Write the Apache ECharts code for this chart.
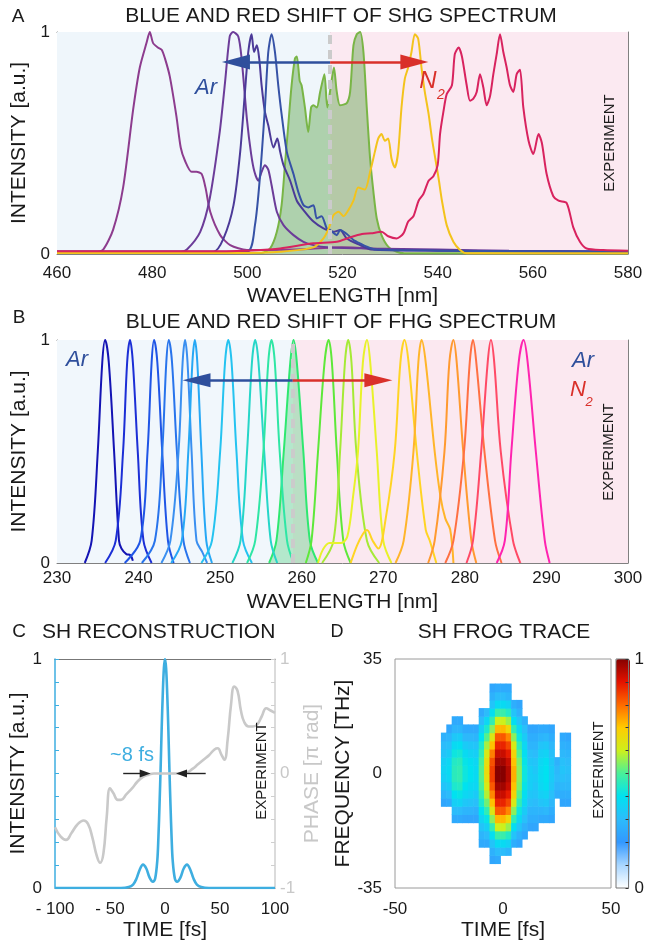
<!DOCTYPE html>
<html>
<head>
<meta charset="utf-8">
<script src="https://cdn.jsdelivr.net/npm/echarts@6/dist/echarts.min.js"></script>
<style>
html, body { margin: 0; padding: 0; background: #fff; }
#main { width: 647px; height: 947px; }
</style>
</head>
<body>
<div id="main"></div>
<script>
// ---- panel A : SHG spectra  [wavelength nm, intensity a.u.]
var shg480 = [[460,0.01],[468,0.01],[469.7,0.02],[471.8,0.11],[473.9,0.3],[476,0.65],[477.4,0.84],[478.8,0.95],[479.5,1.0],[480.2,0.95],[481.2,0.93],[482,0.92],[482.7,0.88],[483.7,0.8],[485.1,0.62],[486,0.48],[486.9,0.42],[488.3,0.37],[489.3,0.37],[490.4,0.36],[491.2,0.3],[492.2,0.19],[494.3,0.085],[496.4,0.04],[499.9,0.018],[510,0.02],[520,0.03],[530,0.02],[545,0.015],[580,0.01]];
var shg497 = [[460,0.01],[486,0.01],[487.3,0.02],[490.1,0.1],[492.1,0.25],[494.2,0.55],[495.3,0.77],[496.3,0.98],[497,1.0],[498.1,0.98],[498.8,0.88],[499.9,0.61],[500.8,0.45],[501.5,0.37],[502.3,0.33],[503,0.37],[503.7,0.4],[504.4,0.38],[505.1,0.31],[506.2,0.19],[507.6,0.13],[509.7,0.085],[511.8,0.055],[513.9,0.04],[516.7,0.03],[525,0.025],[540,0.02],[555,0.015],[580,0.01]];
var shg501 = [[460,0.01],[492.9,0.01],[495,0.07],[497.1,0.22],[498.5,0.46],[499.5,0.73],[500.2,0.91],[500.9,0.99],[501.4,0.91],[502,0.94],[502.5,0.88],[503,0.76],[503.7,0.64],[504.4,0.58],[505.5,0.48],[506.3,0.52],[506.9,0.46],[507.6,0.4],[509,0.33],[510.4,0.24],[512.1,0.19],[513.9,0.146],[516,0.115],[518.1,0.1],[519.5,0.108],[520.9,0.07],[523.7,0.04],[526,0.02],[540,0.015],[580,0.01]];
var shg505 = [[460,0.01],[499.9,0.01],[501.6,0.13],[502.7,0.36],[503.7,0.66],[504.4,0.91],[505.1,0.99],[505.8,0.91],[506.5,0.76],[507.2,0.63],[508.3,0.46],[509.7,0.36],[510.7,0.28],[511.8,0.22],[512.8,0.21],[513.9,0.22],[514.6,0.16],[515.6,0.17],[516.7,0.115],[517.4,0.108],[518.8,0.085],[519.5,0.108],[520.9,0.09],[522.3,0.063],[523,0.055],[525.1,0.033],[527,0.02],[540,0.015],[580,0.01]];
var shg523 = [[460,0.005],[503,0.005],[504.8,0.025],[506.2,0.1],[507.2,0.22],[507.9,0.4],[508.6,0.58],[509.3,0.76],[510,0.88],[510.4,0.89],[511,0.78],[511.4,0.76],[512.1,0.66],[512.8,0.55],[513.4,0.66],[513.9,0.67],[514.6,0.66],[515.3,0.73],[516.2,0.81],[516.8,0.66],[517.7,0.78],[518.2,0.84],[518.8,0.73],[519.5,0.67],[520.9,0.68],[521.6,0.73],[522.3,0.94],[523,0.99],[523.7,1.0],[524.4,0.91],[525.1,0.66],[525.8,0.43],[526.5,0.28],[527.2,0.16],[528.2,0.085],[529.6,0.033],[531.4,0.01],[533,0.003],[580,0.003]];
var shg536 = [[460,0.005],[500,0.005],[506.9,0.01],[513.9,0.03],[516,0.07],[517.1,0.115],[518.1,0.175],[519.2,0.19],[520.2,0.17],[521.3,0.2],[522.3,0.24],[523.3,0.3],[524.7,0.29],[525.8,0.37],[526.8,0.46],[527.5,0.52],[528.2,0.54],[528.9,0.51],[529.6,0.52],[530.3,0.43],[531,0.39],[531.7,0.46],[532.4,0.66],[533.1,0.79],[533.8,0.84],[534.5,0.91],[535.2,0.99],[535.9,0.97],[536.6,0.84],[537.3,0.73],[538.1,0.63],[538.8,0.52],[539.5,0.43],[540.2,0.34],[540.9,0.24],[541.9,0.13],[543.3,0.055],[544.7,0.018],[546.1,0.003],[580,0.003]];
var shg554 = [[460,0.012],[490,0.012],[500,0.015],[506.9,0.025],[513.9,0.048],[518.8,0.055],[521.6,0.075],[524.1,0.09],[526,0.093],[528.2,0.1],[529.6,0.08],[531.4,0.07],[532.8,0.093],[533.8,0.146],[534.9,0.17],[536,0.24],[537,0.27],[538.1,0.33],[539.1,0.35],[540,0.4],[540.5,0.54],[541.2,0.64],[541.9,0.72],[543,0.76],[543.6,0.9],[544.4,0.93],[545.1,0.89],[546.1,0.76],[546.8,0.69],[547.5,0.7],[548.2,0.73],[548.9,0.81],[549.6,0.75],[550.3,0.67],[551,0.71],[551.7,0.81],[552.4,0.9],[553.1,0.99],[553.8,0.91],[554.5,0.84],[555.2,0.76],[555.9,0.73],[556.6,0.81],[557.3,0.83],[558,0.66],[559.1,0.51],[560.1,0.45],[561.2,0.54],[561.9,0.5],[562.9,0.36],[564.3,0.26],[565.4,0.24],[567.1,0.23],[568.5,0.12],[569.9,0.055],[571.3,0.025],[574.8,0.018],[580,0.015]];
var shgColors = ['#8d3c8e', '#6c3c99', '#4c3a98', '#3652a6', '#79b546', '#f3c31c', '#d8235f'];
var shgCenter = 517.4;
var shgArrow = { y: 0.865, blueEnd: 497.6, redEnd: 535.1 };

// ---- panel B : FHG spectra
var fhgSpectra = [
  [[233.4,0],[234.25,0.1],[235.0,0.5],[235.55,0.9],[235.9,1],[236.35,0.9],[237.0,0.5],[237.6,0.1],[237.9,0.065],[238.5,0.04],[239.0,0.035],[239.3,0.01]],
  [[235.9,0],[237.2,0.1],[238.1,0.5],[238.6,0.9],[238.95,1],[239.3,0.9],[239.9,0.5],[240.6,0.1],[241.6,0]],
  [[238.3,0],[240.2,0.1],[241.1,0.5],[241.6,0.9],[241.9,1],[242.3,0.9],[242.9,0.5],[243.6,0.1],[244.3,0]],
  [[240.4,0],[242.0,0.1],[242.9,0.5],[243.4,0.9],[243.7,1],[244.1,0.9],[244.7,0.5],[245.5,0.1],[246.3,0]],
  [[242.8,0],[243.9,0.1],[244.9,0.5],[245.4,0.9],[245.7,1],[246.0,0.9],[246.5,0.5],[247.1,0.1],[247.8,0.05],[248.4,0]],
  [[244.0,0],[245.3,0.1],[246.1,0.5],[246.6,0.9],[246.9,1],[247.2,0.9],[247.7,0.5],[248.3,0.1],[249.0,0]],
  [[247.7,0],[249.0,0.1],[250.0,0.5],[250.6,0.9],[251.0,1],[251.4,0.9],[252.0,0.5],[252.8,0.1],[253.9,0]],
  [[251.5,0],[252.5,0.1],[253.3,0.5],[253.9,0.9],[254.3,1],[254.7,0.9],[255.4,0.5],[256.2,0.1],[257.0,0]],
  [[253.3,0],[254.3,0.1],[255.3,0.5],[255.9,0.9],[256.3,1],[256.7,0.9],[257.3,0.5],[258.2,0.1],[259.0,0]],
  [[256.0,0],[256.9,0.1],[257.8,0.5],[258.6,0.9],[259.0,1],[259.4,0.9],[260.2,0.5],[261.0,0.1],[262.0,0]],
  [[260.5,0],[261.2,0.1],[262.0,0.5],[262.8,0.9],[263.3,1],[263.7,0.9],[264.3,0.5],[265.1,0.1],[266.0,0]],
  [[262.5,0],[263.9,0.1],[264.7,0.5],[265.3,0.9],[265.7,1],[266.1,0.9],[266.7,0.5],[268.0,0.1],[269.5,0]],
  [[262.0,0],[262.6,0.06],[263.4,0.09],[264.8,0.09],[265.6,0.12],[266.3,0.3],[266.9,0.5],[267.5,0.9],[268.0,1],[268.4,0.9],[269.2,0.5],[270.0,0.1],[271.0,0]],
  [[266.0,0],[266.8,0.08],[267.5,0.13],[268.0,0.148],[268.7,0.1],[269.4,0.065],[270.3,0.2],[271.4,0.5],[272.1,0.9],[272.6,1],[273.1,0.9],[274.1,0.5],[275.2,0.15],[275.7,0.1],[276.5,0]],
  [[271.5,0],[272.5,0.1],[273.7,0.5],[274.3,0.9],[274.7,1],[275.2,0.9],[276.3,0.5],[277.0,0.3],[277.6,0.2],[278.2,0.15],[278.6,0]],
  [[275.5,0],[276.3,0.1],[277.5,0.5],[278.1,0.9],[278.6,1],[279.0,0.9],[279.8,0.5],[280.8,0.1],[281.4,0]],
  [[277.6,0],[278.6,0.1],[279.9,0.5],[280.6,0.9],[281.0,1],[281.4,0.9],[282.4,0.5],[283.7,0.1],[284.5,0]],
  [[280.2,0],[281.0,0.1],[282.0,0.5],[282.8,0.9],[283.2,1],[283.6,0.9],[284.4,0.5],[285.9,0.1],[286.8,0]],
  [[283.9,0],[284.9,0.1],[285.7,0.5],[286.6,0.9],[287.2,1],[287.7,0.9],[288.7,0.5],[289.8,0.1],[290.4,0]]
];
var fhgColors = ['#1414b4','#1c2fd6','#1f55e6','#2874ec','#3a8ff0','#27a8f5','#25c3f0','#26d6c8','#2fe6a5','#2ee870',
                 '#5ee83a','#a6ea36','#e8f22a','#ffd424','#ffb52a','#ff9a30','#ff7042','#ff4a66','#ff24b0'];
var fhgFilled = 9;
var fhgCenter = 258.9;
var fhgArrow = { y: 0.82, blueEnd: 247.1, redEnd: 269.4 };

// ---- panel C : reconstructed SH pulse
var pulseIntensity = [[-100,0],[-40,0],[-33,0.004],[-29,0.015],[-26,0.04],[-23,0.08],[-20,0.102],[-17,0.085],[-14,0.045],[-11,0.027],[-9,0.04],[-7,0.12],[-6,0.22],[-5,0.36],[-4,0.52],[-3,0.7],[-2,0.85],[-1,0.96],[0,1],[1,0.96],[2,0.85],[3,0.7],[4,0.52],[5,0.36],[6,0.22],[7,0.12],[9,0.04],[11,0.027],[14,0.045],[17,0.085],[20,0.102],[23,0.08],[26,0.04],[29,0.015],[33,0.004],[40,0],[100,0]];
var pulsePhase = [[-100,-0.47],[-95,-0.55],[-90,-0.58],[-85,-0.52],[-80,-0.45],[-74,-0.41],[-70,-0.44],[-66,-0.56],[-62,-0.72],[-59,-0.78],[-56,-0.7],[-53,-0.38],[-50,-0.13],[-47,-0.17],[-43,-0.23],[-40,-0.23],[-35,-0.18],[-30,-0.13],[-25,-0.07],[-20,-0.03],[-15,-0.01],[-10,0],[0,0],[10,0],[20,0.01],[25,0.04],[30,0.08],[35,0.12],[40,0.16],[45,0.21],[48,0.22],[51,0.17],[54,0.12],[57,0.3],[60,0.6],[63,0.76],[66,0.72],[69,0.55],[72,0.45],[76,0.41],[80,0.41],[84,0.43],[88,0.5],[92,0.57],[96,0.55],[100,0.53]];
var fwhmArrows = [[-38, -18], [37, 15]];   // [tail, head] in fs, drawn at phase 0

// ---- panel D : SH FROG trace, frogTrace[column][row]
var frogTimes = [-27.5,-25,-22.5,-20,-17.5,-15,-12.5,-10,-7.5,-5,-2.5,0,2.5,5,7.5,10,12.5,15,17.5,20,22.5,25,27.5,30];
var frogFreqs = [-28.75,-26.25,-23.75,-21.25,-18.75,-16.25,-13.75,-11.25,-8.75,-6.25,-3.75,-1.25,1.25,3.75,6.25,8.75,11.25,13.75,16.25,18.75,21.25,23.75,26.25,28.75];
var frogTrace = [
  [0,0,0,0,0,0,0,0,.24,.28,.32,.35,.36,.35,.32,.3,.27,0,0,0,0,0,0,0],
  [0,0,0,0,0,0,0,0,.25,.3,.34,.37,.38,.37,.34,.31,.28,.24,0,0,0,0,0,0],
  [0,0,0,0,0,0,.25,.3,.35,.4,.44,.46,.46,.45,.42,.38,.33,.28,.25,0,0,0,0,0],
  [0,0,0,0,0,0,.25,.3,.36,.41,.45,.47,.47,.46,.43,.39,.34,.28,.25,0,0,0,0,0],
  [0,0,0,0,0,0,.24,.28,.33,.37,.4,.42,.42,.41,.38,.34,.29,.25,0,0,0,0,0,0],
  [0,0,0,0,0,0,.24,.28,.32,.36,.38,.4,.4,.39,.36,.33,.29,.25,0,0,0,0,0,0],
  [0,0,0,0,0,0,.24,.27,.31,.34,.37,.38,.38,.37,.35,.32,.28,.25,0,0,0,0,0,0],
  [0,0,0,.25,.28,.32,.36,.4,.44,.47,.5,.51,.51,.5,.47,.44,.4,.35,.3,.25,0,0,0,0],
  [0,0,0,.25,.3,.35,.41,.47,.53,.58,.62,.65,.66,.65,.62,.57,.51,.44,.37,.3,0,0,0,0],
  [0,.24,.27,.32,.39,.47,.55,.63,.71,.77,.82,.85,.85,.83,.78,.71,.63,.55,.47,.39,.32,.27,.24,0],
  [0,.25,.3,.38,.48,.6,.72,.82,.88,.93,.97,1,1,.97,.93,.88,.82,.72,.6,.48,.38,.3,.25,0],
  [0,0,.3,.38,.48,.6,.72,.82,.88,.93,.97,1,1,.97,.93,.88,.82,.72,.6,.48,.38,.3,.25,0],
  [0,0,.28,.36,.45,.56,.67,.77,.84,.89,.93,.95,.95,.93,.89,.84,.77,.67,.56,.45,.36,.28,.25,0],
  [0,0,0,.26,.32,.39,.47,.55,.62,.68,.71,.73,.73,.71,.68,.62,.55,.47,.39,.32,.26,0,0,0],
  [0,0,0,.24,.27,.32,.37,.42,.47,.51,.54,.55,.55,.54,.51,.47,.42,.37,.32,.27,.24,0,0,0],
  [0,0,0,0,.24,.27,.31,.34,.37,.39,.41,.42,.42,.41,.39,.37,.34,.31,.27,0,0,0,0,0],
  [0,0,0,0,0,.24,.26,.28,.31,.33,.35,.35,.35,.33,.31,.28,.26,.24,0,0,0,0,0,0],
  [0,0,0,0,0,.24,.26,.28,.3,.32,.33,.34,.33,.32,.3,.28,.26,.24,0,0,0,0,0,0],
  [0,0,0,0,0,0,.25,.28,.32,.35,.37,.38,.38,.37,.35,.32,.28,.25,0,0,0,0,0,0],
  [0,0,0,0,0,0,.25,.29,.33,.36,.39,.4,.4,.39,.36,.33,.29,.25,0,0,0,0,0,0],
  [0,0,0,0,0,0,.24,.26,.29,.31,.33,.34,.34,.33,.31,.29,.26,.24,0,0,0,0,0,0],
  [0,0,0,0,0,0,0,0,0,.26,.28,.3,.29,.27,0,0,0,0,0,0,0,0,0,0],
  [0,0,0,0,0,0,0,0,.24,.26,.29,.31,.32,.31,.29,.27,.25,0,0,0,0,0,0,0],
  [0,0,0,0,0,0,0,0,.24,.26,.29,.3,.31,.3,.28,.26,.24,0,0,0,0,0,0,0]
];
var jetWhite = ['#ffffff','#a8d6ff','#3298ff','#2cbcfb','#00e2f0','#48f09a','#cdf01c','#ffcc00','#ff6a00','#e41200','#860000'];

var FONT = '"Liberation Sans", Arial, Helvetica, sans-serif';
var INK = '#1a1a1a';
var BLUE = '#2f4f9c', RED = '#d9302a', SKY = '#3eaee0';

function only01(v) {
  if (Math.abs(v) < 1e-6) return '0';
  if (Math.abs(v - 1) < 1e-6) return '1';
  return '';
}

function frameX(grid, min, max, step, opt) {
  return [
    Object.assign({
      type: 'value', gridIndex: grid, min: min, max: max, interval: step, position: 'bottom',
      axisLine: { onZero: false, lineStyle: { color: '#808080' } },
      axisTick: { inside: true, length: 5, lineStyle: { color: '#808080' } },
      axisLabel: { color: INK, fontSize: 17, fontFamily: FONT, margin: 10 },
      splitLine: { show: false },
      name: 'WAVELENGTH [nm]', nameLocation: 'middle', nameGap: 30,
      nameTextStyle: { color: INK, fontSize: 21, fontFamily: FONT }
    }, opt || {}),
    {
      type: 'value', gridIndex: grid, min: min, max: max, interval: step, position: 'top',
      axisLine: { onZero: false, lineStyle: { color: '#808080' } },
      axisTick: { inside: true, length: 5, lineStyle: { color: '#808080' } },
      axisLabel: { show: false }, splitLine: { show: false }
    }
  ];
}
function frameY(grid) {
  return [
    {
      type: 'value', gridIndex: grid, min: 0, max: 1, interval: 0.2, position: 'left',
      axisLine: { show: true, onZero: false, lineStyle: { color: '#808080' } },
      axisTick: { show: true, inside: true, length: 5, lineStyle: { color: '#808080' } },
      axisLabel: { color: INK, fontSize: 17, fontFamily: FONT, margin: 7, formatter: only01 },
      splitLine: { show: false },
      name: 'INTENSITY [a.u.]', nameLocation: 'middle', nameGap: 24,
      nameTextStyle: { color: INK, fontSize: 21, fontFamily: FONT }
    },
    {
      type: 'value', gridIndex: grid, min: 0, max: 1, interval: 0.2, position: 'right',
      axisLine: { show: true, onZero: false, lineStyle: { color: '#808080' } },
      axisTick: { show: true, inside: true, length: 5, lineStyle: { color: '#808080' } },
      axisLabel: { show: false }, splitLine: { show: false }
    }
  ];
}

var xAxes = [].concat(
  frameX(0, 460, 580, 20, { axisLabel: { color: INK, fontSize: 17, fontFamily: FONT, margin: 11 }, nameGap: 32 }),
  frameX(1, 230, 300, 10, { axisLabel: { color: INK, fontSize: 17, fontFamily: FONT, margin: 7 }, nameGap: 29 }),
  [
    { type: 'value', gridIndex: 2, min: -100, max: 100, interval: 50,
      axisLine: { onZero: false, lineStyle: { color: '#888' } }, axisTick: { show: false }, splitLine: { show: false },
      axisLabel: { color: INK, fontSize: 17, fontFamily: FONT, margin: 13,
        formatter: function (v) { return v < 0 ? '- ' + Math.abs(v) : String(v); } },
      name: 'TIME [fs]', nameLocation: 'middle', nameGap: 32,
      nameTextStyle: { color: INK, fontSize: 21, fontFamily: FONT } },
    { type: 'value', gridIndex: 2, min: -100, max: 100, position: 'top',
      axisLine: { onZero: false, lineStyle: { color: '#777' } }, axisTick: { show: false }, axisLabel: { show: false }, splitLine: { show: false } },
    { type: 'value', gridIndex: 3, min: -50, max: 50, interval: 50,
      axisLine: { show: false, onZero: false }, axisTick: { show: false }, splitLine: { show: false },
      axisLabel: { color: INK, fontSize: 17, fontFamily: FONT, margin: 13 },
      name: 'TIME [fs]', nameLocation: 'middle', nameGap: 32,
      nameTextStyle: { color: INK, fontSize: 21, fontFamily: FONT } },
    { type: 'value', gridIndex: 4, min: 0, max: 1, show: false }
  ]
);

var yAxes = [].concat(
  frameY(0),
  frameY(1),
  [
    { type: 'value', gridIndex: 2, min: 0, max: 1, interval: 0.1, position: 'left',
      axisLine: { show: true, onZero: false, lineStyle: { color: SKY, width: 1.5 } },
      axisTick: { show: true, inside: true, length: 4, lineStyle: { color: SKY } },
      axisLabel: { color: INK, fontSize: 17, fontFamily: FONT, margin: 13, formatter: only01 },
      splitLine: { show: false },
      name: 'INTENSITY [a.u.]', nameLocation: 'middle', nameGap: 23,
      nameTextStyle: { color: INK, fontSize: 21, fontFamily: FONT } },
    { type: 'value', gridIndex: 2, min: -1, max: 1, interval: 0.2, position: 'right',
      axisLine: { show: true, onZero: false, lineStyle: { color: '#cfcfcf', width: 1.5 } },
      axisTick: { show: true, inside: true, length: 4, lineStyle: { color: '#cfcfcf' } },
      axisLabel: { color: '#c8c8c8', fontSize: 17, fontFamily: FONT, margin: 5,
        formatter: function (v) { return (Math.abs(v) < 1e-6 || Math.abs(Math.abs(v) - 1) < 1e-6) ? String(Math.round(v)) : ''; } },
      splitLine: { show: false },
      name: 'PHASE [\u03c0 rad]', nameLocation: 'middle', nameGap: 27,
      nameTextStyle: { color: '#c8c8c8', fontSize: 21, fontFamily: FONT } },
    { type: 'value', gridIndex: 3, min: -35, max: 35, interval: 35,
      axisLine: { show: false, onZero: false }, axisTick: { show: false }, splitLine: { show: false },
      axisLabel: { color: INK, fontSize: 17, fontFamily: FONT, margin: 13 },
      name: 'FREQUENCY [THz]', nameLocation: 'middle', nameGap: 40,
      nameTextStyle: { color: INK, fontSize: 21, fontFamily: FONT } },
    { type: 'value', gridIndex: 4, min: 0, max: 1, interval: 0.1, position: 'right', z: 10,
      axisLine: { show: false, onZero: false },
      axisTick: { show: true, inside: true, length: 3, lineStyle: { color: '#333' } },
      axisLabel: { color: INK, fontSize: 17, fontFamily: FONT, margin: 6, formatter: only01 },
      splitLine: { show: false } }
  ]
);

function curve(xi, yi, data, color, width, z) {
  return { type: 'line', xAxisIndex: xi, yAxisIndex: yi, data: data, showSymbol: false, symbol: 'none',
           smooth: 0.25, z: z || 2, silent: true, lineStyle: { color: color, width: width || 2 } };
}
function background(xi, yi, x0, xc, x1, cLeft, cRight) {
  return { type: 'line', xAxisIndex: xi, yAxisIndex: yi, data: [[x0, 0], [x1, 0]], symbol: 'none',
    lineStyle: { opacity: 0 }, z: 0, silent: true,
    markArea: { silent: true, label: { show: false },
      data: [[{ xAxis: x0, itemStyle: { color: cLeft } }, { xAxis: xc }],
             [{ xAxis: xc, itemStyle: { color: cRight } }, { xAxis: x1 }]] } };
}
function centerLine(xi, yi, xc) {
  return { type: 'line', xAxisIndex: xi, yAxisIndex: yi, data: [[xc, 0]], symbol: 'none',
    lineStyle: { opacity: 0 }, z: 3, silent: true,
    markLine: { silent: true, symbol: 'none', label: { show: false },
      lineStyle: { color: '#cbcbcb', width: 4, type: [9, 6] }, data: [{ xAxis: xc }] } };
}
function shiftArrows(xi, yi, xc, arrow, size) {
  return { type: 'line', xAxisIndex: xi, yAxisIndex: yi, data: [[xc, arrow.y]], symbol: 'none',
    lineStyle: { opacity: 0 }, z: 5, silent: true,
    markLine: { silent: true, symbol: ['none', 'triangle'], symbolSize: size, label: { show: false },
      data: [
        [{ coord: [xc, arrow.y], lineStyle: { color: BLUE, width: 2.6, type: 'solid' } }, { coord: [arrow.blueEnd, arrow.y] }],
        [{ coord: [xc, arrow.y], lineStyle: { color: RED, width: 2.6, type: 'solid' } }, { coord: [arrow.redEnd, arrow.y] }]
      ] } };
}

var series = [];
// panel A
series.push(background(0, 0, 460, shgCenter, 580, '#eff6fb', '#fbe9f1'));
var green = curve(0, 0, shg523, shgColors[4], 2, 1);
green.areaStyle = { color: 'rgba(70,150,50,0.55)' };
series.push(green);
[shg480, shg497, shg501, shg505, shg536, shg554].forEach(function (d, i) {
  var c = [0, 1, 2, 3, 5, 6][i];
  series.push(curve(0, 0, d, shgColors[c], 2, 2));
});
series.push(centerLine(0, 0, shgCenter));
series.push(shiftArrows(0, 0, shgCenter, shgArrow, [15, 28]));

// panel B
series.push(background(2, 2, 230, fhgCenter, 300, '#f1f7fc', '#fbe8f0'));
fhgSpectra.forEach(function (d, i) {
  var s = curve(2, 2, d, fhgColors[i], 2, i === fhgFilled ? 1 : 2);
  s.smooth = 0.35;
  if (i === fhgFilled) s.areaStyle = { color: 'rgba(46,200,100,0.45)' };
  series.push(s);
});
series.push(centerLine(2, 2, fhgCenter));
series.push(shiftArrows(2, 2, fhgCenter, fhgArrow, [14, 28]));

// panel C
var inten = curve(4, 4, pulseIntensity, SKY, 2.6, 2);
inten.smooth = 0.35;
series.push(inten);
var phase = curve(4, 5, pulsePhase, '#c9c9c9', 2.6, 3);
phase.smooth = 0.45;
series.push(phase);
series.push({ type: 'line', xAxisIndex: 4, yAxisIndex: 4, data: [[0, 0.5]], symbol: 'none', lineStyle: { opacity: 0 },
  z: 5, silent: true,
  markLine: { silent: true, symbol: ['none', 'triangle'], symbolSize: [8, 11], label: { show: false },
    lineStyle: { color: '#222', width: 1.4, type: 'solid' },
    data: fwhmArrows.map(function (a) { return [{ coord: [a[0], 0.5] }, { coord: [a[1], 0.5] }]; }) } });

// panel D
var frogData = [];
frogTimes.forEach(function (t, i) {
  frogFreqs.forEach(function (f, j) {
    var v = frogTrace[i][j];
    if (v > 0) frogData.push([t, f, v]);
  });
});
var frogIndex = series.length;
series.push({ type: 'custom', xAxisIndex: 6, yAxisIndex: 6, data: frogData, silent: true,
  encode: { x: 0, y: 1 },
  renderItem: function (params, api) {
    var halfT = (frogTimes[1] - frogTimes[0]) / 2, halfF = (frogFreqs[1] - frogFreqs[0]) / 2;
    var p0 = api.coord([api.value(0) - halfT, api.value(1) + halfF]);
    var p1 = api.coord([api.value(0) + halfT, api.value(1) - halfF]);
    return { type: 'rect', shape: { x: p0[0], y: p0[1], width: p1[0] - p0[0] + 0.6, height: p1[1] - p0[1] + 0.6 },
             style: { fill: api.visual('color') } };
  } });

function label(text, x, y, size, opt) {
  opt = opt || {};
  return { type: 'text', x: x, y: y, rotation: opt.rotation || 0, z: 100, silent: true,
    style: { text: text, fill: opt.color || INK,
      font: (opt.italic ? 'italic ' : '') + size + 'px ' + FONT,
      align: opt.align || 'center', verticalAlign: 'middle',
      textAlign: opt.align || 'center', textVerticalAlign: 'middle' } };
}

var graphics = [
  label('A', 18, 17, 19),
  label('BLUE AND RED SHIFT OF SHG SPECTRUM', 341, 16, 21),
  label('B', 19, 318, 19),
  label('BLUE AND RED SHIFT OF FHG SPECTRUM', 341, 322, 21),
  label('C', 19, 632, 19),
  label('SH RECONSTRUCTION', 42, 632, 21, { align: 'left' }),
  label('D', 337, 632, 18),
  label('SH FROG TRACE', 504, 632, 21),
  label('EXPERIMENT', 610, 143, 15, { rotation: Math.PI / 2 }),
  label('EXPERIMENT', 609, 452, 15, { rotation: Math.PI / 2 }),
  label('EXPERIMENT', 262, 771, 15, { rotation: Math.PI / 2 }),
  label('EXPERIMENT', 599, 770, 15, { rotation: Math.PI / 2 }),
  label('Ar', 206, 88, 22, { italic: true, color: BLUE }),
  label('N', 428, 81, 24, { italic: true, color: RED }),
  label('2', 441, 95, 14, { italic: true, color: RED }),
  label('Ar', 77, 360, 22, { italic: true, color: BLUE }),
  label('Ar', 583, 361, 22, { italic: true, color: BLUE }),
  label('N', 578, 390, 22, { italic: true, color: RED }),
  label('2', 589, 402, 13, { italic: true, color: RED }),
  label('~8 fs', 132, 755, 20, { color: SKY })
];

var chart = echarts.init(document.getElementById('main'), null, { renderer: 'canvas' });
chart.setOption({
  animation: false,
  backgroundColor: '#ffffff',
  textStyle: { fontFamily: FONT },
  grid: [
    { left: 57, top: 32, width: 571, height: 222 },
    { left: 57, top: 340, width: 571, height: 223 },
    { left: 55, top: 659, width: 220, height: 229 },
    { left: 395, top: 659, width: 216, height: 229, show: true, borderColor: '#9a9a9a', borderWidth: 1 },
    { left: 616, top: 659, width: 14, height: 229, show: true, borderColor: '#777', borderWidth: 1, z: 10 }
  ],
  xAxis: xAxes,
  yAxis: yAxes,
  visualMap: {
    type: 'continuous', show: true, seriesIndex: frogIndex, dimension: 2, min: 0, max: 1,
    left: 616, top: 659, itemWidth: 14, itemHeight: 229, padding: 0, calculable: false, hoverLink: false,
    inRange: { color: jetWhite }
  },
  series: series,
  graphic: graphics
});
</script>
</body>
</html>
